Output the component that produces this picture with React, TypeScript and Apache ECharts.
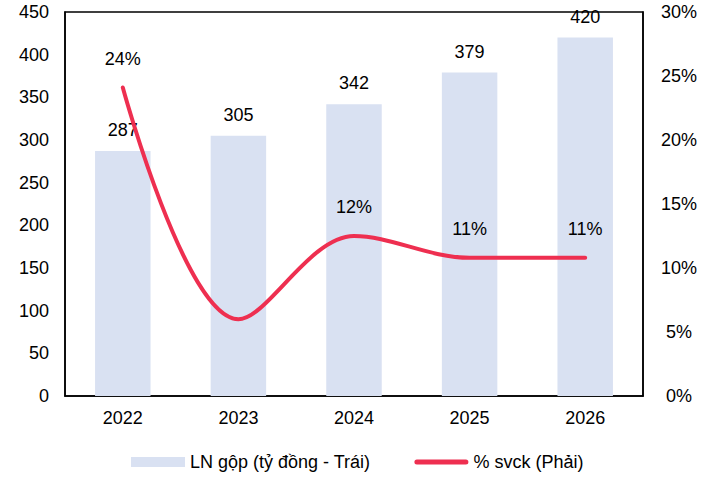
import React, { useEffect, useRef } from "react";
import * as echarts from "echarts";

const categories = ["2022", "2023", "2024", "2025", "2026"];
const grossProfit = [287, 305, 342, 379, 420];
const growthPct = [24.1, 6.0, 12.5, 10.8, 10.8];
const growthLabels = ["24%", "", "12%", "11%", "11%"];
const leftTicks = { min: 0, max: 450, interval: 50 };
const rightTicks = { min: 0, max: 30, interval: 5 };

const FONT = "'Liberation Sans', Arial, sans-serif";
const RED = "#EE2F50";
const LINE_ICON =
  "path://M0,0 M54,10 M2.5,2.5 L51.5,2.5 A2.5,2.5 0 0 1 51.5,7.5 L2.5,7.5 A2.5,2.5 0 0 1 2.5,2.5 Z";

export default function App() {
  const ref = useRef<HTMLDivElement>(null);
  useEffect(() => {
    if (!ref.current) return;
    const chart = echarts.init(ref.current, undefined, { renderer: "svg" });
    chart.setOption({
      animation: false,
      textStyle: { fontFamily: FONT },
      grid: {
        left: 65,
        right: 83,
        top: 12,
        bottom: 86,
        show: true,
        borderColor: "#000",
        borderWidth: 1.5,
      },
      legend: {
        bottom: 6,
        left: 126,
        itemWidth: 54,
        itemHeight: 10,
        itemGap: 44,
        textStyle: { fontSize: 18, color: "#000", fontFamily: FONT },
        data: [
          { name: "LN gộp (tỷ đồng - Trái)", icon: "rect" },
          { name: "% svck (Phải)", icon: LINE_ICON, itemStyle: { color: RED } },
        ],
      },
      xAxis: {
        type: "category",
        data: categories,
        axisLine: { lineStyle: { color: "#000", width: 1.5 } },
        axisTick: { show: false },
        axisLabel: { color: "#000", fontSize: 18, margin: 13, fontFamily: FONT },
      },
      yAxis: [
        {
          type: "value",
          min: leftTicks.min,
          max: leftTicks.max,
          interval: leftTicks.interval,
          axisLine: { show: true, lineStyle: { color: "#000", width: 1.5 } },
          axisTick: { show: false },
          splitLine: { show: false },
          axisLabel: { color: "#000", fontSize: 18, margin: 16, fontFamily: FONT },
        },
        {
          type: "value",
          min: rightTicks.min,
          max: rightTicks.max,
          interval: rightTicks.interval,
          axisLine: { show: true, lineStyle: { color: "#000", width: 1.5 } },
          axisTick: { show: false },
          splitLine: { show: false },
          axisLabel: {
            color: "#000",
            fontSize: 18,
            margin: 36,
            align: "center",
            fontFamily: FONT,
            formatter: (v: number) => `${v}%`,
          },
        },
      ],
      series: [
        {
          name: "LN gộp (tỷ đồng - Trái)",
          type: "bar",
          data: grossProfit,
          barWidth: "48%",
          itemStyle: { color: "#D9E1F2" },
          z: 2,
          label: {
            show: true,
            position: "top",
            distance: 12,
            color: "#000",
            fontSize: 18,
            fontFamily: FONT,
          },
        },
        {
          name: "% svck (Phải)",
          type: "line",
          yAxisIndex: 1,
          data: growthPct,
          smooth: 0.35,
          symbol: "none",
          showSymbol: false,
          z: 3,
          lineStyle: { color: RED, width: 4, cap: "round" },
          itemStyle: { color: RED },
        },
        {
          name: "labels",
          type: "scatter",
          yAxisIndex: 1,
          data: growthPct,
          symbolSize: 0,
          silent: true,
          z: 4,
          itemStyle: { opacity: 1, color: "transparent" },
          label: {
            show: true,
            position: "top",
            distance: 20,
            color: "#000",
            opacity: 1,
            fontSize: 18,
            fontFamily: FONT,
            formatter: (p: any) => growthLabels[p.dataIndex],
          },
        },
      ],
    });
    return () => chart.dispose();
  }, []);
  return <div ref={ref} style={{ width: 726, height: 482, position: "absolute", left: 0, top: 0 }} />;
}
